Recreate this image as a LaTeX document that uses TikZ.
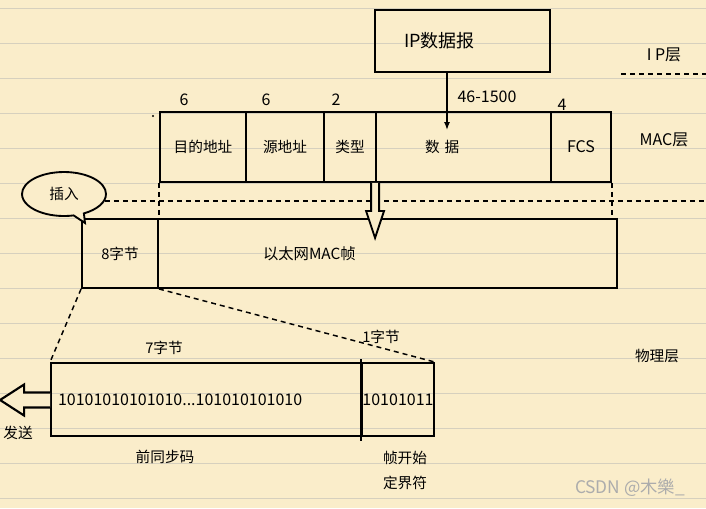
\documentclass[tikz,border=0pt]{standalone}
\usepackage{fontspec}
\setmainfont{Noto Sans CJK SC}
\usepackage{xcolor}
\usepackage{tikz}
\usetikzlibrary{arrows.meta, calc, shapes.callouts}
\definecolor{paper}{RGB}{250,237,202}
\definecolor{ruling}{RGB}{214,208,190}
\def\px{0.75pt}

\begin{document}
\begin{tikzpicture}[x=0.75pt, y=-0.75pt,
	box/.style={draw, line width=1.4pt, inner sep=0pt, font=\fontsize{11}{13}\selectfont},
	txt/.style={inner sep=0pt, font=\fontsize{11}{13}\selectfont},
	lat/.style={font=\fontsize{12}{14}\selectfont},
	dashln/.style={line width=1.1pt, dash pattern=on 3.75pt off 3pt}]
				% paper
				\fill[paper] (0,0) rectangle (706,508);
				\useasboundingbox (0,0) rectangle (706,508);
				\foreach \y in {8,43,...,498}
					\draw[ruling, line width=0.75pt] (0,\y) -- (706,\y);
				\coordinate (redge) at (706,0);

				% IP layer
				\node[box, minimum width=175*\px, minimum height=62*\px, text width=117*\px, inner xsep=29*\px, align=left, font=\fontsize{13.5}{16}\selectfont] (ip) at (462.5,41) {IP数据报};
				\coordinate (ipdash) at (621,74);
				\draw[dashln] (ipdash) -- (ipdash -| redge);
				\node[txt, lat] (lip) at (664,55) {I P层};

				% MAC frame fields
				\node[box, minimum width=86*\px, minimum height=70*\px] (dst) at (203,147) {目的地址};
				\node[box, minimum width=78*\px, minimum height=70*\px] (src) at (285,147) {源地址};
				\node[box, minimum width=52*\px, minimum height=70*\px] (type) at (350,147) {类型};
				\node[box, minimum width=175*\px, minimum height=70*\px, text width=77*\px, inner xsep=49*\px, align=left] (data) at (463.5,147) {数 据};
				\node[box, lat, minimum width=60*\px, minimum height=70*\px] (fcs) at (581,147) {FCS};
				\node[txt, lat] (ndst) at (184,100) {6};
				\node[txt, lat] (nsrc) at (266,100) {6};
				\node[txt, lat] (ntype) at (336,100) {2};
				\node[txt, lat] (ndata) at (487,97) {46-1500};
				\node[txt, lat] (nfcs) at (562,105) {4};
				\node[txt, lat] (lmac) at (664,140) {MAC层};
				\fill (153,116) circle (0.8pt);

				\coordinate (ipin) at (447,130);
				\draw[line width=1pt, -{Latex[length=6pt, width=4.5pt]}] (ipin |- ip.south) -- (ipin);

				% ethernet frame with preamble
				\node[box, minimum width=76*\px, minimum height=69*\px] (pre8) at (120,253.5) {8字节};
				\node[box, minimum width=459*\px, minimum height=69*\px, text width=249*\px, inner xsep=105*\px, align=left, font=\fontsize{11.5}{13}\selectfont] (macfr) at (387.5,253.5) {以太网MAC帧};

				\node[draw, ellipse callout, line width=1.4pt, fill=paper, minimum width=84*\px, minimum height=44*\px, inner sep=0pt, callout absolute pointer={(85,223)}, font=\fontsize{11}{13}\selectfont] (bubble) at (64,194) {插入};
				\draw[dashln] (bubble.-10) -- (bubble.-10 -| redge);
				\draw[dashln] (dst.south west) -- (dst.south west |- macfr.north);
				\draw[dashln] (fcs.south east) -- (fcs.south east |- macfr.north);

				\draw[line width=1.4pt, fill=paper] ([xshift=-3pt]data.south west) -- ++(0,28) -- ++(-5,0) -- ++(9,27) -- ++(9,-27) -- ++(-5,0) -- ++(0,-28);

				% physical layer
				\node[box, lat, minimum width=311*\px, minimum height=73*\px, text width=297*\px, inner xsep=7*\px, align=left] (pre) at (206.5,399.5) {10101010101010...101010101010};
				\node[box, lat, minimum width=72*\px, minimum height=73*\px] (sfd) at (398,399.5) {10101011};
				\draw[line width=1.4pt] ([yshift=2.25pt]sfd.north west) -- ([yshift=-3pt]sfd.south west);
				\draw[dashln] (pre8.south west) -- (pre.north west);
				\draw[dashln] (pre8.south east) -- (sfd.north east);

				\draw[line width=1.6pt, fill=paper] ([yshift=5.25pt]pre.west) -- ++(-26,0) -- ++(0,-8) -- ++(-24,15.5) -- ++(24,15.5) -- ++(0,-8) -- ++(26,0);

				\node[txt] (l7) at (164,348) {7字节};
				\node[txt] (l1) at (381,337) {1字节};
				\node[txt] (lpre) at (165,457) {前同步码};
				\node[txt] (lsfd1) at (405,458) {帧开始};
				\node[txt] (lsfd2) at (405,483) {定界符};
				\node[txt] (lsend) at (18,433) {发送};
				\node[txt] (lphy) at (657,356) {物理层};
				\node[txt, text=gray!65, font=\fontsize{13}{15}\selectfont] (mark) at (630,488) {CSDN @木樂\_};
			\end{tikzpicture}
\end{document}
